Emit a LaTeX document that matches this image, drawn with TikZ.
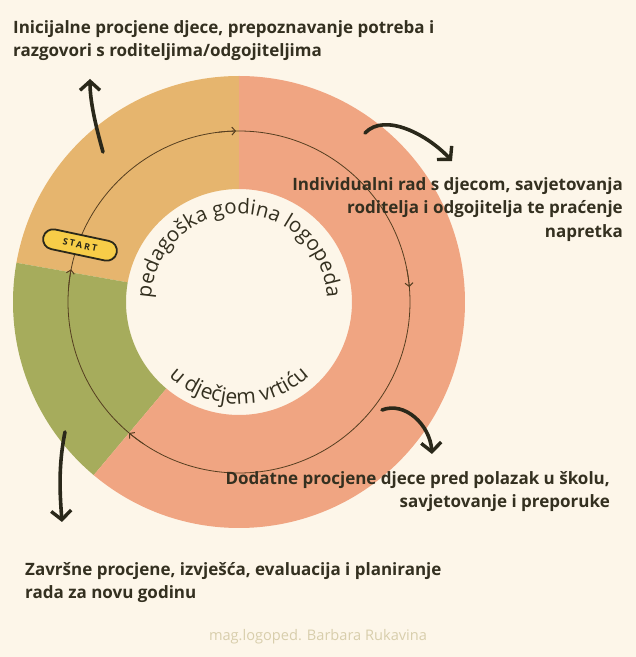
\documentclass[tikz,border=0pt]{standalone}
\usepackage{fontspec}
\setmainfont{Open Sans}
\usetikzlibrary{arrows.meta,decorations.text}
\definecolor{bg}{RGB}{253,246,233}
\definecolor{orng}{RGB}{230,181,110}
\definecolor{grn}{RGB}{166,172,92}
\definecolor{slmn}{RGB}{240,165,130}
\definecolor{txt}{RGB}{52,48,32}
\definecolor{ink}{RGB}{42,40,26}
\definecolor{ring}{RGB}{85,62,32}
\definecolor{yel}{RGB}{247,205,72}
\definecolor{foot}{RGB}{216,206,172}
\tikzset{
  lbl/.style={inner sep=0pt, text=txt, font=\fontsize{17}{23.5}\selectfont\bfseries},
  bigarrow/.style={draw=ink, line width=3.6pt, line cap=round, -{Straight Barb[length=9pt,width=20pt,line width=3.4pt]}},
  ringarrow/.style={draw=ring, line width=0.8pt, -{Straight Barb[length=3.5pt,width=8pt,line width=1pt]}},
}
\begin{document}
\begin{tikzpicture}[x=1pt,y=1pt]
\useasboundingbox (0,0) rectangle (636,657);
\fill[bg] (0,0) rectangle (636,657);
\coordinate (C) at (239,355);
\begin{scope}[shift={(239,355)}]
  \fill[orng] (90:226) arc[start angle=90,end angle=170,radius=226] -- (170:113) arc[start angle=170,end angle=90,radius=113] -- cycle;
  \fill[grn] (170:226) arc[start angle=170,end angle=230,radius=226] -- (230:113) arc[start angle=230,end angle=170,radius=113] -- cycle;
  \fill[slmn] (230:226) arc[start angle=230,end angle=450,radius=226] -- (90:113) arc[start angle=90,end angle=-130,radius=113] -- cycle;
\end{scope}
% thin ring
\draw[ring, line width=0.8pt] (C) circle[radius=171];
\draw[ringarrow] (C) ++(97:171) arc[start angle=97,end angle=91,radius=171];
\draw[ringarrow] (C) ++(11:171) arc[start angle=11,end angle=5,radius=171];
\draw[ringarrow] (C) ++(236:171) arc[start angle=236,end angle=230,radius=171];
\draw[ringarrow] (C) ++(175:171) arc[start angle=175,end angle=169,radius=171];
% curved texts
\path[decorate, decoration={text along path, text align=center, text color=txt,
  text={|\fontsize{20.5}{20.5}\selectfont|pedagoška godina logopeda}}]
  (C) ++(179:88) arc[start angle=179,end angle=1,radius=88];
\path[decorate, decoration={text along path, text align=center, text color=txt,
  text={|\fontsize{21}{21}\selectfont|u dječjem vrtiću}}]
  (C) ++(200:102) arc[start angle=200,end angle=340,radius=102];
% START badge
\node[draw=ink, line width=1.8pt, fill=yel, rounded corners=10pt, minimum width=75pt, minimum height=20pt, inner sep=0pt, rotate=-12, text=ink, font=\fontsize{9}{9}\selectfont\bfseries\addfontfeatures{LetterSpace=22}] (start) at (80,412) {START};
% labels
\node[lbl, anchor=north west, align=left] (l1) at (13,637) {Inicijalne procjene djece, prepoznavanje potreba i\\razgovori s roditeljima/odgojiteljima};
\node[lbl, anchor=north east, align=right] (l2) at (623,480) {Individualni rad s djecom, savjetovanja\\roditelja i odgojitelja te praćenje\\napretka};
\node[lbl, anchor=north east, align=right] (l3) at (610,186) {Dodatne procjene djece pred polazak u školu,\\savjetovanje i preporuke};
\node[lbl, anchor=north west, align=left] (l4) at (25,95) {Završne procjene, izvješća, evaluacija i planiranje\\rada za novu godinu};
\node[inner sep=0pt, text=foot, font=\fontsize{14.6}{14.6}\selectfont] (ft) at (318,20) {mag.logoped. Barbara Rukavina};
% big arrows
\coordinate (a1s) at (103,505); \coordinate (a1e) at (90,578);
\draw[bigarrow] (a1s) .. controls (96,530) and (90,555) .. (a1e);
\coordinate (a2s) at (365,524); \coordinate (a2e) at (452,496);
\draw[bigarrow] (a2s) .. controls (385,545) and (428,522) .. (a2e);
\coordinate (a3s) at (382,247); \coordinate (a3e) at (432,203);
\draw[bigarrow] (a3s) .. controls (405,256) and (430,232) .. (a3e);
\coordinate (a4s) at (65,225); \coordinate (a4e) at (62,135);
\draw[bigarrow] (a4s) .. controls (58,190) and (60,162) .. (a4e);
\end{tikzpicture}
\end{document}
